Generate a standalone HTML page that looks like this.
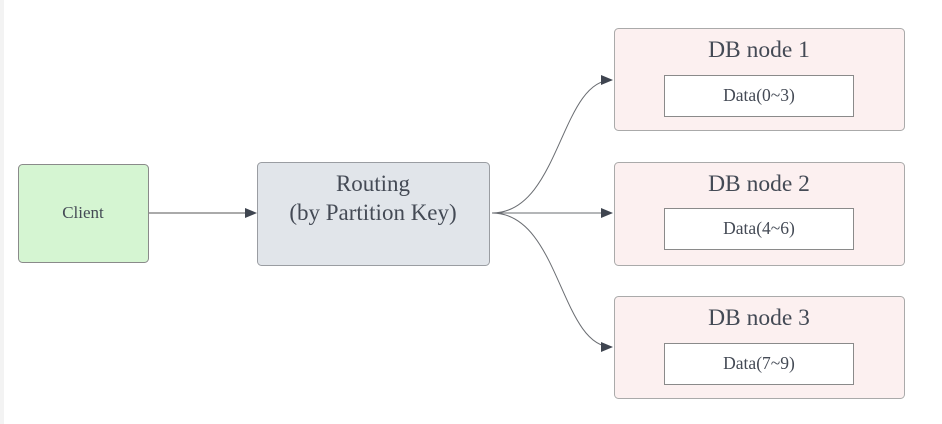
<!DOCTYPE html>
<html><head><style>
body{margin:0;background:#fff;}
svg{display:block;font-family:"Liberation Serif",serif;}
</style></head><body>
<svg width="942" height="424" viewBox="0 0 942 424">
<defs><marker id="a" markerWidth="12" markerHeight="10" refX="11" refY="5" orient="auto" markerUnits="userSpaceOnUse"><path d="M0,0 L12,5 L0,10 Z" fill="#3f4550"/></marker></defs>
<rect x="0" y="0" width="4" height="424" fill="#f3f3f3"/>
<rect x="18.5" y="164.5" width="130" height="98" rx="4" fill="#d5f5d2" stroke="#8a8a8a"/>
<text x="83" y="218" text-anchor="middle" font-size="17" fill="#444a55">Client</text>
<rect x="257.5" y="162.5" width="232" height="103" rx="4" fill="#e1e5ea" stroke="#9a9da2"/>
<text x="373" y="191" text-anchor="middle" font-size="23" fill="#444a55">Routing</text>
<text x="373" y="220" text-anchor="middle" font-size="23" fill="#444a55">(by Partition Key)</text>
<line x1="149" y1="213" x2="256" y2="213" stroke="#555" stroke-width="1" marker-end="url(#a)"/>
<g fill="none" stroke="#6a6d72" stroke-width="1">
<path d="M492,213 C560,213 560,80 612,80" marker-end="url(#a)"/>
<path d="M492,213 L612,213" marker-end="url(#a)"/>
<path d="M492,213 C560,213 560,347 612,347" marker-end="url(#a)"/>
</g>
<g font-size="23.5" fill="#444a55" text-anchor="middle">
<rect x="614.5" y="28.5" width="290" height="102" rx="4" fill="#fcf0f0" stroke="#aaa"/>
<text x="759" y="57">DB node 1</text>
<rect x="664.5" y="75.5" width="189" height="41" fill="#fff" stroke="#8a8a8a"/>
<text x="759" y="101" font-size="17.5">Data(0~3)</text>
<rect x="614.5" y="162.5" width="290" height="103" rx="4" fill="#fcf0f0" stroke="#aaa"/>
<text x="759" y="191">DB node 2</text>
<rect x="664.5" y="208.5" width="189" height="41" fill="#fff" stroke="#8a8a8a"/>
<text x="759" y="234" font-size="17.5">Data(4~6)</text>
<rect x="614.5" y="296.5" width="290" height="102" rx="4" fill="#fcf0f0" stroke="#aaa"/>
<text x="759" y="325">DB node 3</text>
<rect x="664.5" y="343.5" width="189" height="41" fill="#fff" stroke="#8a8a8a"/>
<text x="759" y="369" font-size="17.5">Data(7~9)</text>
</g>
</svg>
</body></html>
